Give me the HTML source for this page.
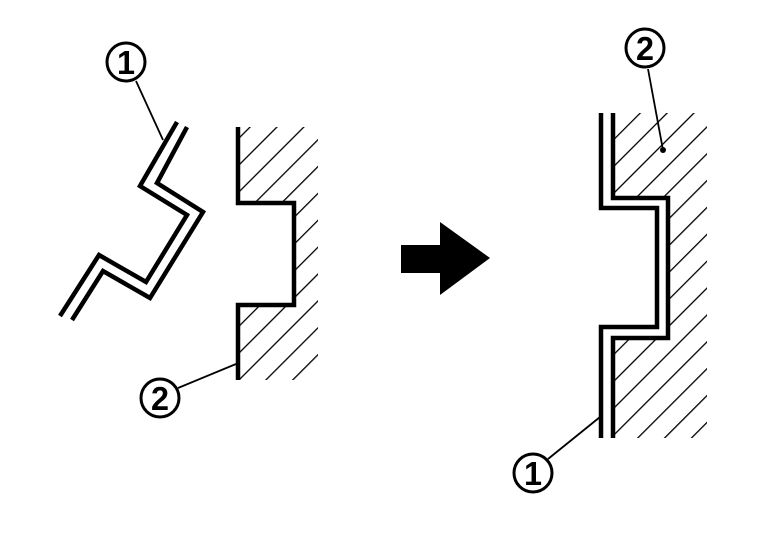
<!DOCTYPE html>
<html><head><style>html,body{margin:0;padding:0;background:#fff}svg{display:block}</style></head>
<body>
<svg width="768" height="544" viewBox="0 0 768 544" xmlns="http://www.w3.org/2000/svg">
<defs>
<pattern id="h" patternUnits="userSpaceOnUse" width="19" height="19" patternTransform="rotate(45)">
<line x1="0" y1="0" x2="0" y2="19" stroke="#000" stroke-width="2.6"/>
</pattern>
<clipPath id="c1"><polygon points="240,127 318,127 318,380 240,380 240,305 294,305 294,203 240,203"/></clipPath>
<clipPath id="c2"><polygon points="614,113 707,113 707,438 614,438 614,338 668,338 668,198 614,198"/></clipPath>
</defs>
<g fill="none" stroke="#000" stroke-linejoin="miter" stroke-linecap="butt">
<rect x="230" y="120" width="100" height="270" fill="url(#h)" clip-path="url(#c1)" stroke="none"/>
<rect x="600" y="105" width="120" height="345" fill="url(#h)" clip-path="url(#c2)" stroke="none"/>
<polyline points="60,316 99,255 146,282 187,215 140,186 177,122" stroke-width="4.5"/>
<polyline points="72,320 103,271 150,298 203,212 157,183 187,127" stroke-width="4.5"/>
<polyline points="238,127 238,203 294,203 294,305 238,305 238,380" stroke-width="4.5"/>
<polyline points="601,113 601,208 657,208 657,327 601,327 601,438" stroke-width="4.5"/>
<polyline points="613,113 613,198 668,198 668,338 613,338 613,438" stroke-width="4.5"/>
<line x1="136" y1="81" x2="163" y2="140" stroke-width="1.8"/>
<line x1="178" y1="388" x2="236" y2="364" stroke-width="1.8"/>
<line x1="648" y1="69" x2="663" y2="150" stroke-width="1.8"/>
<line x1="548" y1="459" x2="600" y2="417" stroke-width="1.8"/>
<circle cx="126" cy="62" r="19" stroke-width="3" fill="#fff"/>
<circle cx="160" cy="398" r="19" stroke-width="3" fill="#fff"/>
<circle cx="645" cy="48" r="19" stroke-width="3" fill="#fff"/>
<circle cx="533" cy="473" r="19" stroke-width="3" fill="#fff"/>
</g>
<circle cx="663" cy="150" r="3" fill="#000"/>
<polygon points="401,245 440,245 440,222 490,258 440,295 440,273 401,273" fill="#000"/>
<g font-family="Liberation Sans, sans-serif" font-weight="bold" font-size="33" text-anchor="middle">
<text x="126" y="74" textLength="18" lengthAdjust="spacingAndGlyphs">1</text>
<text x="160" y="410" textLength="18" lengthAdjust="spacingAndGlyphs">2</text>
<text x="645" y="60" textLength="18" lengthAdjust="spacingAndGlyphs">2</text>
<text x="533" y="485" textLength="18" lengthAdjust="spacingAndGlyphs">1</text>
</g>
</svg>
</body></html>
